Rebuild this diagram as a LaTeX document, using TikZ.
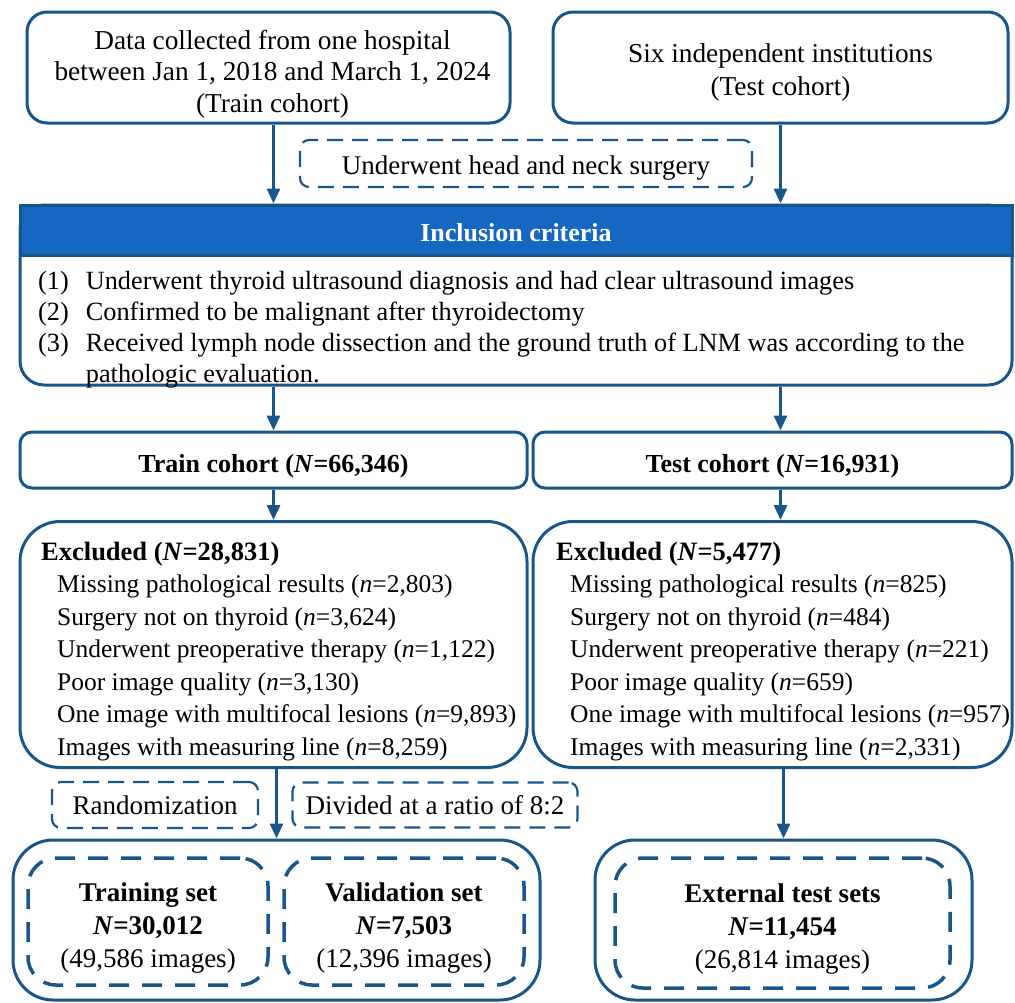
\documentclass[tikz,border=0pt]{standalone}
\usepackage{fontspec}
\setmainfont{Liberation Serif}
\usetikzlibrary{arrows.meta,positioning,calc}
\definecolor{lineblue}{RGB}{24,86,138}
\definecolor{headblue}{RGB}{22,103,194}
\tikzset{
  box/.style={draw=lineblue, line width=3pt, rounded corners=20pt, align=center, fill=white, inner sep=0pt},
  note/.style={draw=lineblue, line width=2.2pt, dash pattern=on 16pt off 9pt, rounded corners=9pt, align=center, inner sep=0pt,
    font=\fontsize{27}{31}\selectfont},
  setbox/.style={draw=lineblue, line width=3.5pt, dash pattern=on 20pt off 13pt, rounded corners=28pt, inner sep=0pt},
  txt/.style={inner sep=0pt, anchor=base},
  arrow/.style={-{Triangle[length=15pt,width=13pt]}, line width=3pt, draw=lineblue}
}
\begin{document}
\begin{tikzpicture}[x=1pt, y=-1pt, font=\fontsize{26}{31}\selectfont]
  \useasboundingbox (0,0) rectangle (1015,1002);
  % sources
  \node[box, minimum width=483pt, minimum height=111pt] (data) at (268.5,67.5) {};
  \node[txt, font=\fontsize{27.3}{31.5}\selectfont] (datatxt) at (272.5,49)
    {\begin{tabular}[t]{@{}c@{}}Data collected from one hospital\\between Jan 1, 2018 and March 1, 2024\\(Train cohort)\end{tabular}};
  \node[box, minimum width=455pt, minimum height=111pt] (six) at (780.5,67.5) {};
  \node[txt, font=\fontsize{27.3}{33}\selectfont] (sixtxt) at (780.5,62)
    {\begin{tabular}[t]{@{}c@{}}Six independent institutions\\(Test cohort)\end{tabular}};
  \node[note, minimum width=452pt, minimum height=47pt, text height=21pt, text depth=0pt] (surg) at (526,163.5)
    {Underwent head and neck surgery};
  % inclusion criteria
  \node[box, rounded corners=24pt, minimum width=992pt, minimum height=180pt] (incl) at (516,295) {};
  \node[draw=lineblue, line width=3pt, fill=headblue, text=white, font=\fontsize{26}{31}\selectfont\bfseries,
    minimum width=992pt, minimum height=50pt, inner sep=0pt, text height=23pt, text depth=0pt] (head) at (516,230) {Inclusion criteria};
  \node[txt, anchor=base west, font=\fontsize{26.3}{31}\selectfont] (crit) at (38,289) {%
    \begin{tabular}[t]{@{}l@{\hspace{17pt}}l@{}}
      (1) & Underwent thyroid ultrasound diagnosis and had clear ultrasound images\\
      (2) & Confirmed to be malignant after thyroidectomy\\
      (3) & Received lymph node dissection and the ground truth of LNM was according to the\\
          & pathologic evaluation.
    \end{tabular}};
  % cohorts
  \node[box, rounded corners=12pt, minimum width=507pt, minimum height=56pt, text height=25pt, text depth=0pt,
    font=\fontsize{26}{31}\selectfont\bfseries] (train) at (273.5,460) {Train cohort (\textit{N}=66,346)};
  \node[box, rounded corners=12pt, minimum width=479pt, minimum height=56pt, text height=25pt, text depth=0pt,
    font=\fontsize{26}{31}\selectfont\bfseries] (test) at (772.5,460) {Test cohort (\textit{N}=16,931)};
  % exclusions
  \node[box, rounded corners=40pt, minimum width=507pt, minimum height=246pt] (exl) at (273.5,644.5) {};
  \node[txt, anchor=base west, font=\fontsize{25.5}{32.5}\selectfont] (exltxt) at (41,560) {%
    \begin{tabular}[t]{@{}l@{}}
      {\fontsize{26.5}{32.5}\selectfont\bfseries Excluded (\textit{N}=28,831)}\\
      \hspace*{16pt}Missing pathological results (\textit{n}=2,803)\\
      \hspace*{16pt}Surgery not on thyroid (\textit{n}=3,624)\\
      \hspace*{16pt}Underwent preoperative therapy (\textit{n}=1,122)\\
      \hspace*{16pt}Poor image quality (\textit{n}=3,130)\\
      \hspace*{16pt}One image with multifocal lesions (\textit{n}=9,893)\\
      \hspace*{16pt}Images with measuring line (\textit{n}=8,259)
    \end{tabular}};
  \node[box, rounded corners=40pt, minimum width=479pt, minimum height=246pt] (exr) at (772.5,644.5) {};
  \node[txt, anchor=base west, font=\fontsize{25.5}{32.5}\selectfont] (exrtxt) at (556,560) {%
    \begin{tabular}[t]{@{}l@{}}
      {\fontsize{26.5}{32.5}\selectfont\bfseries Excluded (\textit{N}=5,477)}\\
      \hspace*{14pt}Missing pathological results (\textit{n}=825)\\
      \hspace*{14pt}Surgery not on thyroid (\textit{n}=484)\\
      \hspace*{14pt}Underwent preoperative therapy (\textit{n}=221)\\
      \hspace*{14pt}Poor image quality (\textit{n}=659)\\
      \hspace*{14pt}One image with multifocal lesions (\textit{n}=957)\\
      \hspace*{14pt}Images with measuring line (\textit{n}=2,331)
    \end{tabular}};
  % split
  \node[note, minimum width=206pt, minimum height=46pt, text height=18pt, text depth=0pt] (rand) at (155,805) {Randomization};
  \node[note, minimum width=285pt, minimum height=45pt, text height=18pt, text depth=0pt] (ratio) at (435,805) {Divided at a ratio of 8:2};
  \node[box, rounded corners=40pt, minimum width=527pt, minimum height=160pt] (outL) at (276.5,920) {};
  \node[box, rounded corners=40pt, minimum width=377pt, minimum height=160pt] (outR) at (783.5,920) {};
  \node[setbox, minimum width=240pt, minimum height=127pt] (trn) at (148,921.5) {};
  \node[setbox, minimum width=240pt, minimum height=127pt] (val) at (404,921.5) {};
  \node[setbox, minimum width=335pt, minimum height=130pt] (ext) at (782.5,923) {};
  \node[txt, font=\fontsize{27}{33}\selectfont] (trntxt) at (148,901)
    {\begin{tabular}[t]{@{}c@{}}\textbf{Training set}\\\textbf{\textit{N}=30,012}\\(49,586 images)\end{tabular}};
  \node[txt, font=\fontsize{27}{33}\selectfont] (valtxt) at (404,901)
    {\begin{tabular}[t]{@{}c@{}}\textbf{Validation set}\\\textbf{\textit{N}=7,503}\\(12,396 images)\end{tabular}};
  \node[txt, font=\fontsize{27}{33}\selectfont] (exttxt) at (782.5,902)
    {\begin{tabular}[t]{@{}c@{}}\textbf{External test sets}\\\textbf{\textit{N}=11,454}\\(26,814 images)\end{tabular}};
  % arrows
  \draw[arrow] (train |- data.south) -- (train |- head.north);
  \draw[arrow] (six.south) -- (six.south |- head.north);
  \draw[arrow] (train |- incl.south) -- (train.north);
  \draw[arrow] (six |- incl.south) -- (six |- test.north);
  \draw[arrow] (train.south) -- (exl.north);
  \draw[arrow] (six |- test.south) -- (six |- exr.north);
  \draw[arrow] (outL |- exl.south) -- (outL.north);
  \draw[arrow] (outR |- exr.south) -- (outR.north);
\end{tikzpicture}
\end{document}
